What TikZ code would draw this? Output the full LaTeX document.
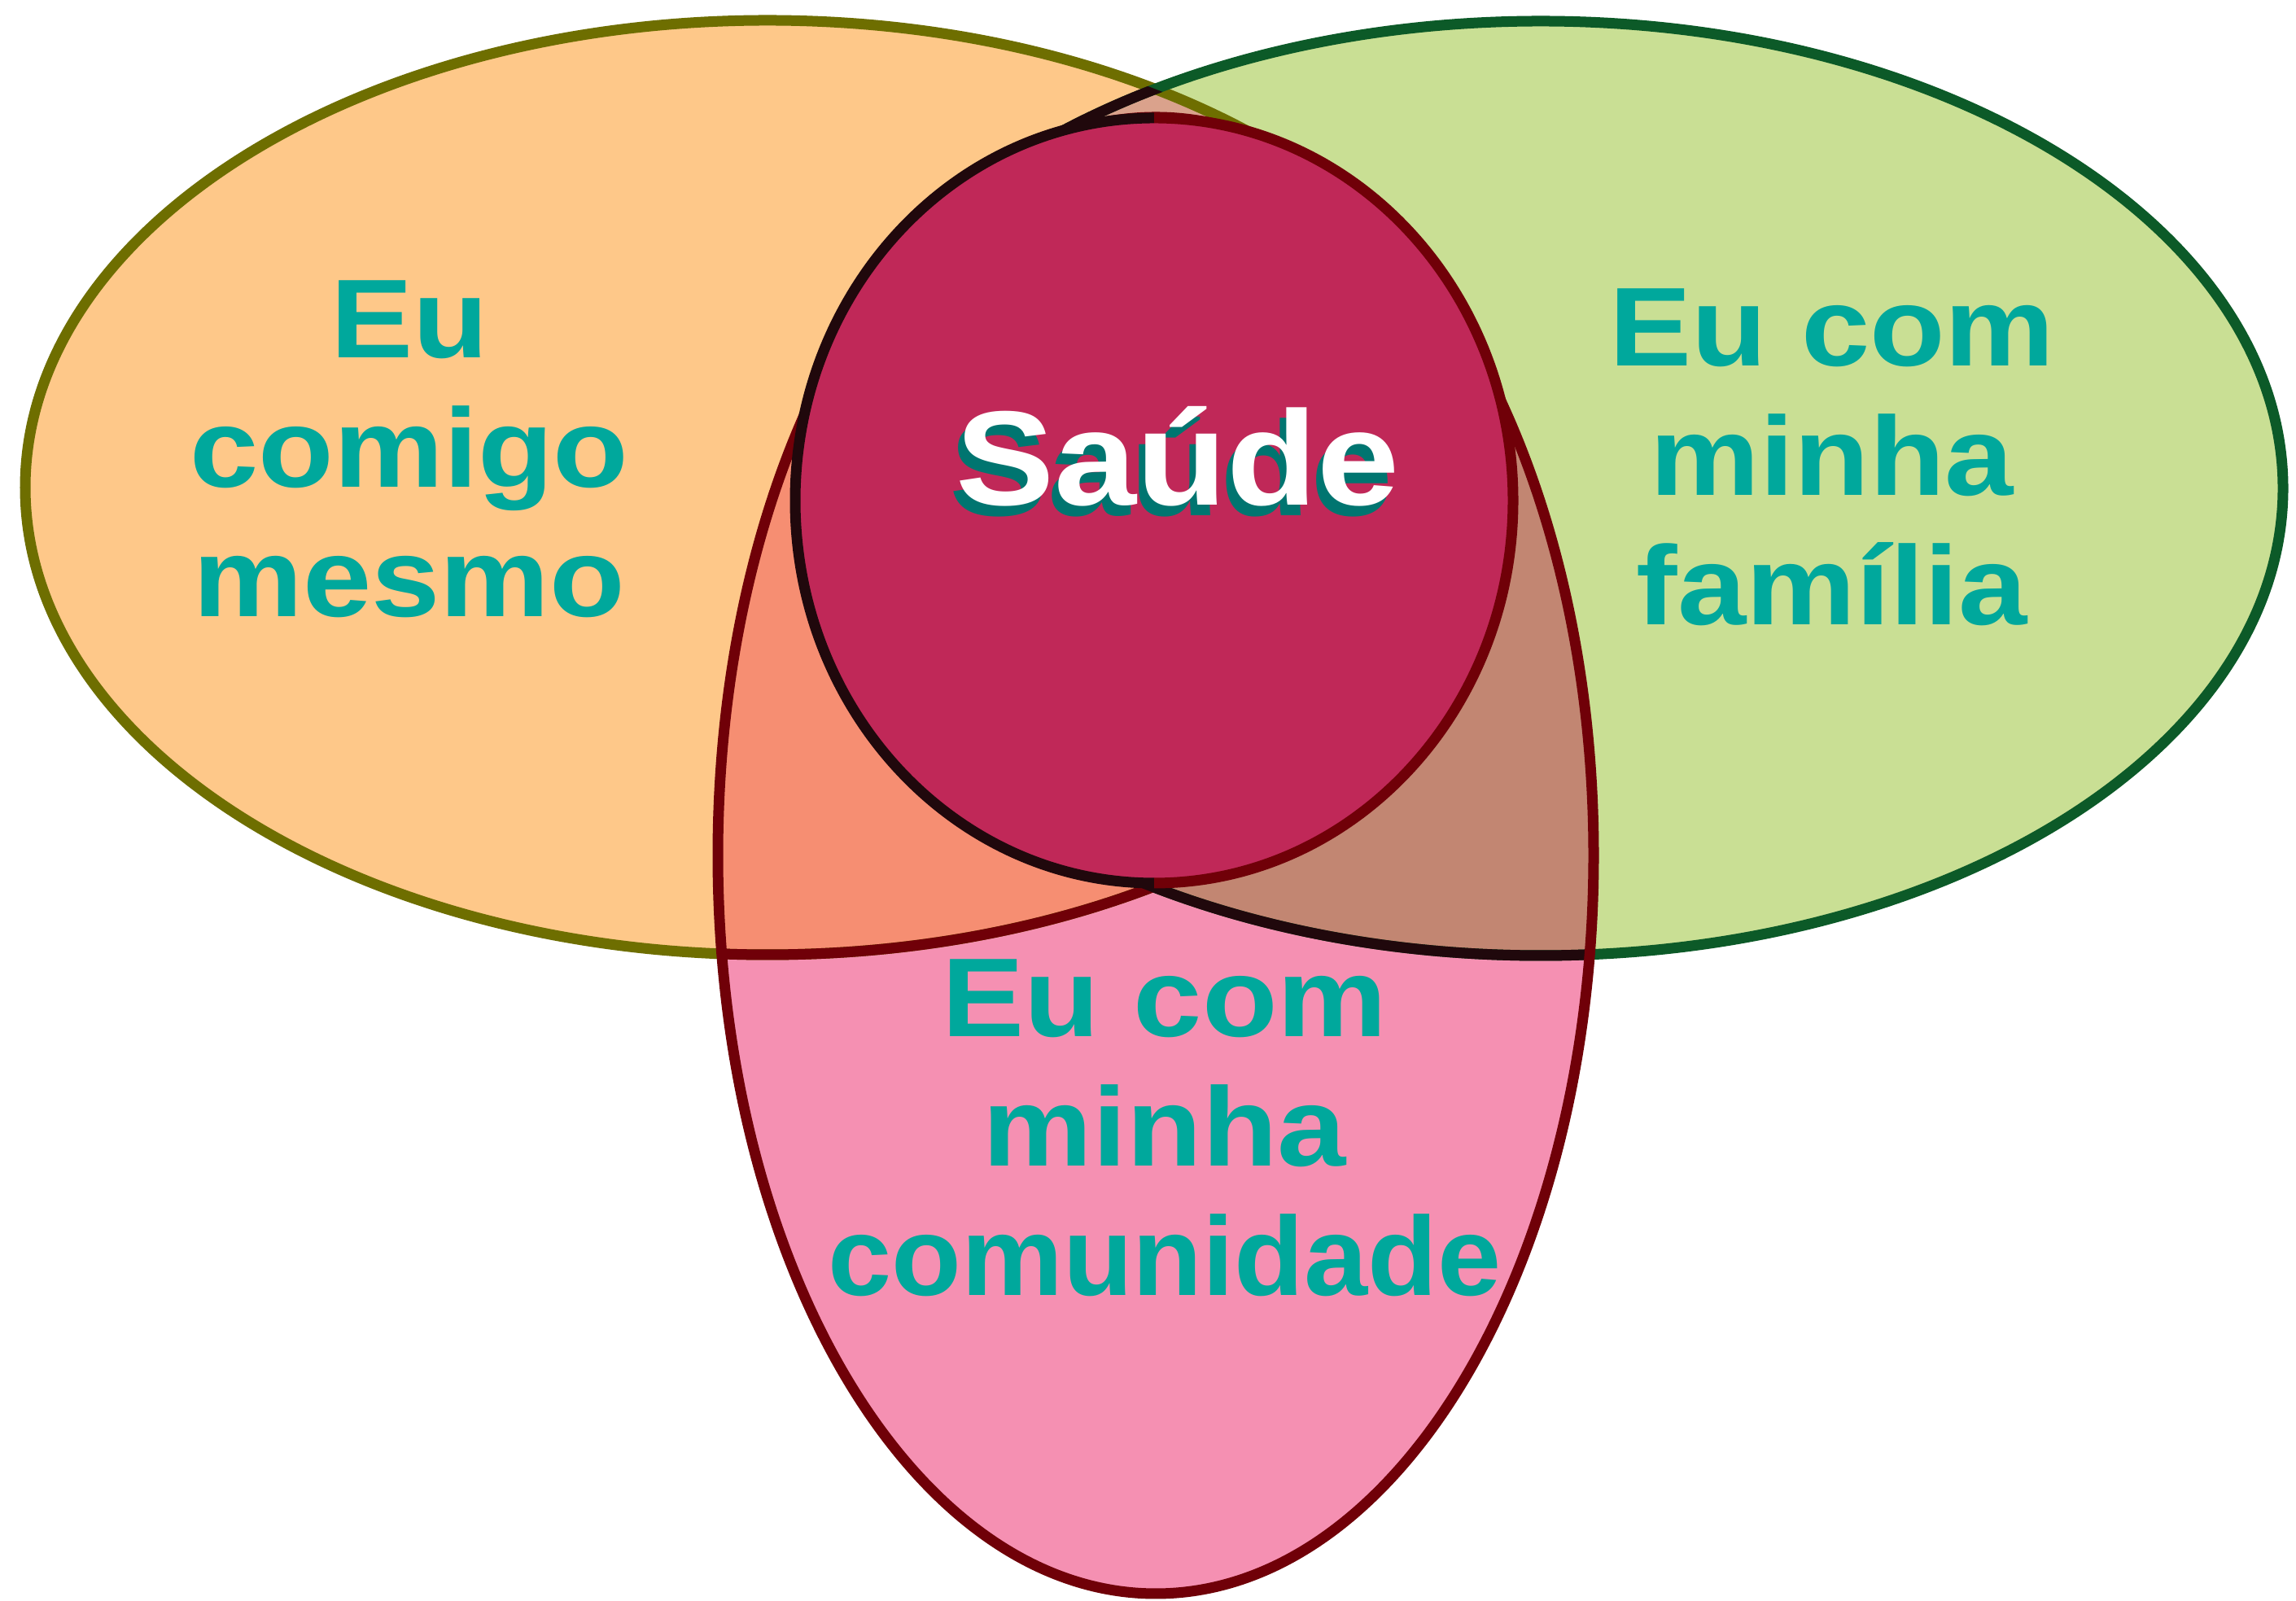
\documentclass[tikz,border=0pt]{standalone}
\usepackage{fontspec}
\setmainfont{Liberation Sans}
\newfontfamily\vennfont[FakeStretch=1.1]{Liberation Sans}
\newfontfamily\narrowvennfont[FakeStretch=1.02]{Liberation Sans}
\definecolor{selffill}{RGB}{254,200,137}
\definecolor{familyfill}{RGB}{201,223,148}
\definecolor{communityfill}{RGB}{245,144,178}
\definecolor{bothfill}{RGB}{218,162,140}
\definecolor{selfcomfill}{RGB}{246,142,114}
\definecolor{familycomfill}{RGB}{194,134,114}
\definecolor{healthfill}{RGB}{192,40,88}
\definecolor{selfline}{RGB}{110,110,0}
\definecolor{familyline}{RGB}{12,90,40}
\definecolor{communityline}{RGB}{112,0,8}
\definecolor{darkline}{RGB}{32,8,12}
\definecolor{labelteal}{RGB}{0,168,156}
\definecolor{shadowteal}{RGB}{0,117,112}
\begin{document}
\begin{tikzpicture}[line width=3.7pt,
wide/.style={x radius=9.12,y radius=5.74},
tall/.style={x radius=5.38,y radius=9.07},
round/.style={x radius=4.41,y radius=4.70},
venntext/.style={text=labelteal,font=\vennfont\bfseries\fontsize{39.2}{45.3}\selectfont,align=center,inner sep=0pt},
healthtext/.style={font=\vennfont\bfseries\fontsize{47}{56}\selectfont,anchor=base,inner sep=0pt}]
\useasboundingbox (0,0) rectangle (28.21,19.67);
\fill[white] (0,0) rectangle (28.21,19.67);
\coordinate (self) at (9.43,13.68);
\coordinate (family) at (18.93,13.67);
\coordinate (community) at (14.20,9.16);
\coordinate (health) at (14.18,13.52);
\coordinate (health pos) at (14.47,13.46);
\fill[selffill] (self) ellipse [wide];
\fill[familyfill] (family) ellipse [wide];
\begin{scope}
\clip (self) ellipse [wide];
\fill[bothfill] (family) ellipse [wide];
\end{scope}
\fill[communityfill] (community) ellipse [tall];
\begin{scope}
\clip (community) ellipse [tall];
\fill[selfcomfill] (self) ellipse [wide];
\fill[familycomfill] (family) ellipse [wide];
\end{scope}
\draw[selfline] (self) ellipse [wide];
\draw[familyline] (family) ellipse [wide];
\begin{scope}
\clip (self) ellipse [wide];
\draw[darkline] (family) ellipse [wide];
\end{scope}
\begin{scope}
\clip (community) ellipse [tall];
\draw[communityline] (self) ellipse [wide];
\draw[darkline] (family) ellipse [wide];
\end{scope}
\draw[communityline] (community) ellipse [tall];
\fill[healthfill] (health) ellipse [round];
\begin{scope}
\clip (0,0) rectangle (health |- 0,19.67);
\draw[darkline] (health) ellipse [round];
\end{scope}
\begin{scope}
\clip (health |- 0,0) rectangle (28.21,19.67);
\draw[communityline] (health) ellipse [round];
\end{scope}
\node[venntext] (self label) at (5.03,14.15) {Eu\\comigo\\mesmo};
\node[venntext] (family label) at (22.51,14.05) {Eu com\\minha\\família};
\node[venntext] (community label) at (14.31,5.81) {Eu com\\minha\\{\narrowvennfont\bfseries comunidade}};
\node[healthtext,text=shadowteal] (health shadow) at ([shift={(-0.08,-0.13)}]health pos) {Saúde};
\node[healthtext,text=white] (health label) at (health pos) {Saúde};
\end{tikzpicture}
\end{document}
